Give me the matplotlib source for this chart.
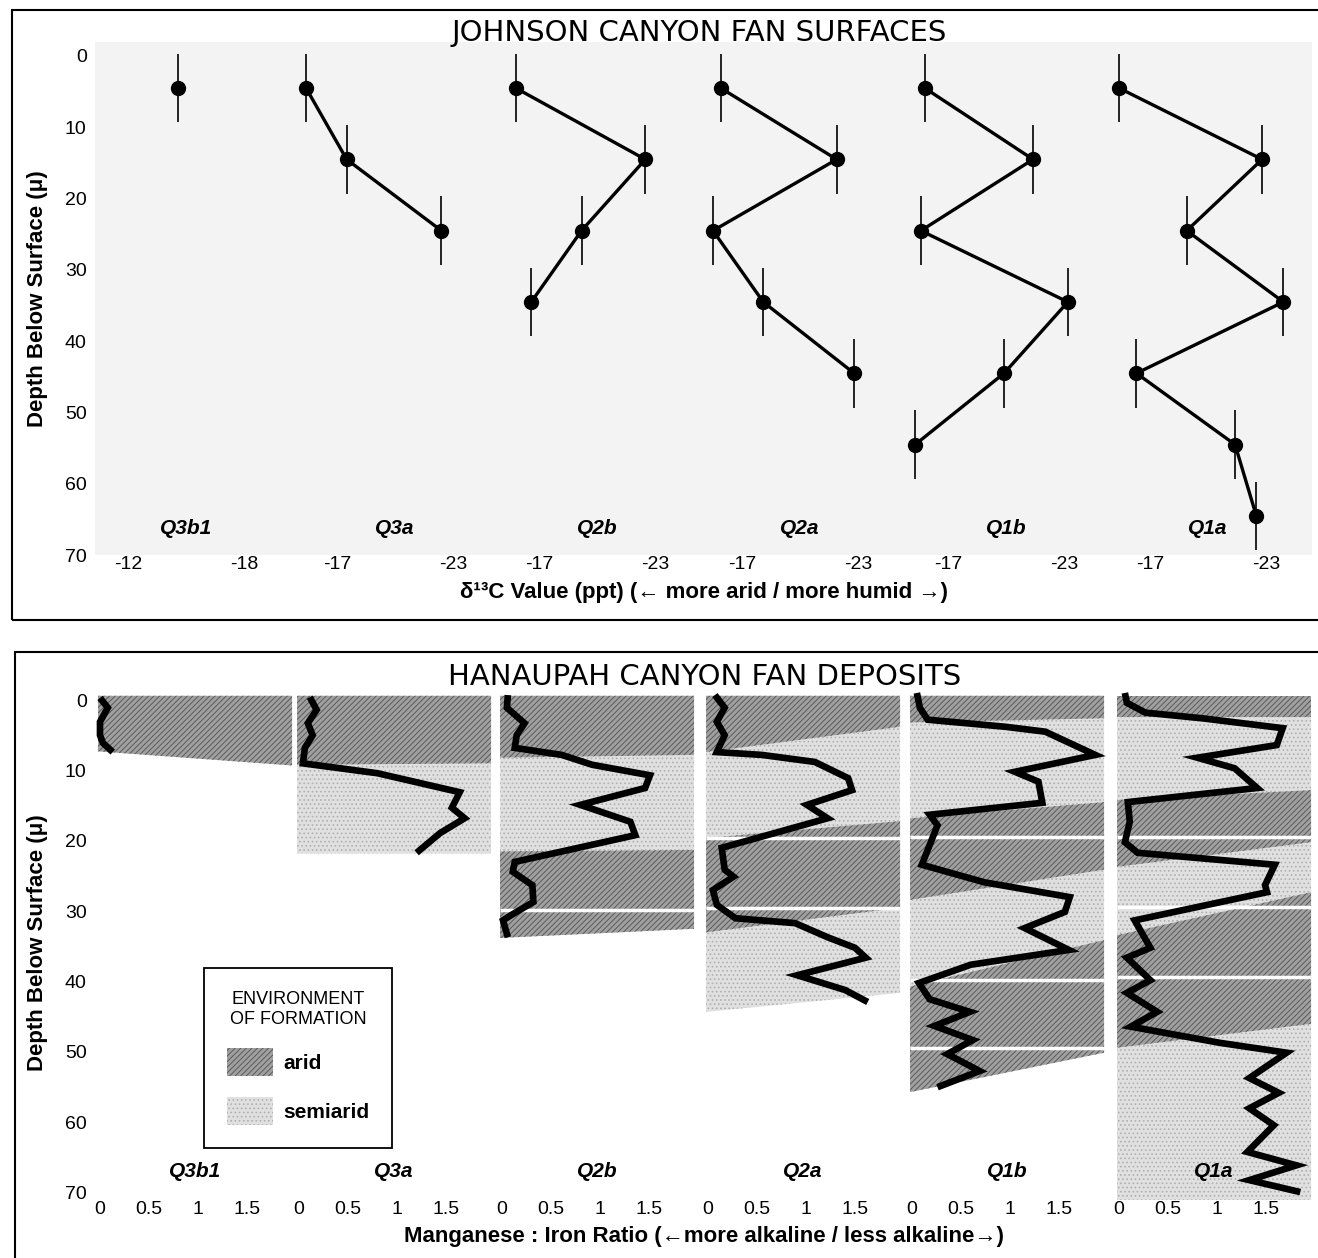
import matplotlib
matplotlib.use("Agg")
import matplotlib.pyplot as plt
from matplotlib.patches import Rectangle, Patch

plt.rcParams["font.family"] = ["Liberation Sans", "DejaVu Sans"]
plt.rcParams["hatch.linewidth"] = 0.7
plt.rcParams["axes.unicode_minus"] = False

# ---------------- data: Johnson Canyon (delta 13C) ----------------
surfaces = ["Q3b1", "Q3a", "Q2b", "Q2a", "Q1b", "Q1a"]
sample_depths = [4.5, 14.5, 24.5, 34.5, 44.5, 54.5, 64.5]
d13c_q3b1 = [-14.6]
d13c_q3a = [-15.4, -17.5, -22.4]
d13c_q2b = [-15.8, -22.5, -19.2, -16.6]
d13c_q2a = [-15.9, -21.9, -15.5, -18.1, -22.8]
d13c_q1b = [-15.8, -21.4, -15.6, -23.2, -19.9, -15.3]
d13c_q1a = [-15.4, -22.8, -18.9, -23.9, -16.3, -21.4, -22.5]
d13c_err = 4.8
d13c_ticks = [[-12, -18], [-17, -23], [-17, -23], [-17, -23], [-17, -23], [-17, -23]]
depth_ticks = [0, 10, 20, 30, 40, 50, 60, 70]

# ---------------- data: Hanaupah Canyon (Mn:Fe ratio) ----------------
mnfe_depth_q3b1 = [-0.3, 1.1, 3.1, 5.0, 6.1, 7.4]
mnfe_q3b1 = [0.0, 0.08, 0.0, 0.0, 0.03, 0.13]
mnfe_depth_q3a = [-0.4, 1.4, 3.3, 5.0, 6.8, 9.0, 10.4, 13.1, 15.3, 16.8, 18.9, 21.7]
mnfe_q3a = [0.11, 0.18, 0.09, 0.14, 0.06, 0.04, 0.8, 1.64, 1.56, 1.69, 1.44, 1.2]
mnfe_depth_q2b = [-0.7, 1.1, 3.3, 5.0, 6.8, 7.8, 9.2, 10.7, 12.5, 14.9, 17.3, 19.2,
                  23.0, 24.4, 26.3, 28.7, 30.5, 31.3, 33.7]
mnfe_q2b = [0.06, 0.05, 0.23, 0.15, 0.13, 0.61, 0.92, 1.51, 1.46, 0.8, 1.31, 1.36,
            0.13, 0.11, 0.31, 0.32, 0.1, 0.01, 0.06]
mnfe_depth_q2a = [-0.7, 1.1, 3.1, 5.0, 7.4, 7.8, 8.8, 11.1, 12.8, 14.9, 16.8, 21.0,
                  24.1, 25.1, 27.0, 29.1, 31.0, 31.7, 33.7, 35.2, 36.6, 39.1, 41.2, 42.9]
mnfe_q2a = [0.07, 0.17, 0.09, 0.17, 0.09, 0.55, 1.09, 1.43, 1.47, 1.01, 1.22, 0.14,
            0.17, 0.26, 0.05, 0.09, 0.28, 0.89, 1.22, 1.5, 1.61, 0.91, 1.4, 1.63]
mnfe_depth_q1b = [-1.0, 1.1, 2.8, 3.8, 4.5, 7.8, 10.2, 11.6, 14.6, 16.3, 17.8, 23.4,
                  25.9, 28.0, 30.1, 32.4, 35.5, 37.6, 40.2, 42.5, 44.3, 46.3, 48.3,
                  50.3, 52.7, 55.0]
mnfe_q1b = [0.05, 0.08, 0.16, 0.95, 1.36, 1.87, 1.05, 1.29, 1.33, 0.18, 0.26, 0.1,
            0.74, 1.61, 1.56, 1.15, 1.6, 0.6, 0.07, 0.18, 0.59, 0.23, 0.62, 0.36,
            0.69, 0.26]
mnfe_depth_q1a = [-1.0, 0.4, 1.8, 2.6, 4.0, 6.4, 8.2, 9.7, 12.5, 14.5, 17.3, 20.2,
                  21.7, 23.4, 26.3, 27.3, 31.3, 35.2, 36.6, 39.8, 41.6, 44.3, 46.4,
                  48.7, 50.1, 53.7, 55.8, 58.0, 60.4, 64.2, 66.1, 68.2, 69.9]
mnfe_q1a = [0.06, 0.08, 0.27, 0.85, 1.67, 1.61, 0.8, 1.18, 1.41, 0.09, 0.11, 0.06,
            0.19, 1.59, 1.49, 1.51, 0.16, 0.32, 0.08, 0.32, 0.08, 0.39, 0.12, 1.03,
            1.71, 1.33, 1.63, 1.33, 1.58, 1.31, 1.81, 1.33, 1.85]
ratio_ticks = [0, 0.5, 1, 1.5]
ratio_tick_labels = ["0", "0.5", "1", "1.5"]

# environment bands: (type, top left, top right, bottom left, bottom right) depths
bands_q3b1 = [("arid", -0.6, -0.6, 7.3, 9.3)]
bands_q3a = [("arid", -0.6, -0.6, 9.2, 9.0), ("semiarid", 9.2, 9.0, 21.8, 21.8)]
bands_q2b = [("arid", -0.6, -0.6, 8.2, 7.8), ("semiarid", 8.2, 7.8, 21.5, 21.3),
             ("arid", 21.5, 21.3, 33.8, 32.5)]
bands_q2a = [("arid", -0.6, -0.6, 7.4, 3.8), ("semiarid", 7.4, 3.8, 19.6, 17.2),
             ("arid", 19.6, 17.2, 29.5, 29.5), ("semiarid", 29.5, 29.5, 44.3, 41.6),
             ("arid", 29.5, 29.5, 33.0, 29.5)]
bands_q1b = [("arid", -0.6, -0.6, 3.2, 2.6), ("semiarid", 3.2, 2.6, 16.8, 14.5),
             ("arid", 16.8, 14.5, 28.4, 24.1), ("semiarid", 28.4, 24.1, 40.7, 34.1),
             ("arid", 40.7, 34.1, 55.7, 50.1)]
bands_q1a = [("arid", -0.6, -0.6, 2.4, 2.4), ("semiarid", 2.4, 2.4, 14.2, 12.8),
             ("arid", 14.2, 12.8, 23.7, 20.2), ("semiarid", 23.7, 20.2, 33.4, 27.3),
             ("arid", 33.4, 27.3, 49.4, 46.0), ("semiarid", 49.4, 46.0, 71, 71)]
gaps_q2b = [29.8]
gaps_q2a = [19.6, 29.5]
gaps_q1b = [19.5, 39.8, 49.5]
gaps_q1a = [19.5, 29.4, 39.3]

d13c_values = [d13c_q3b1, d13c_q3a, d13c_q2b, d13c_q2a, d13c_q1b, d13c_q1a]
mnfe_values = [mnfe_q3b1, mnfe_q3a, mnfe_q2b, mnfe_q2a, mnfe_q1b, mnfe_q1a]
mnfe_depths = [mnfe_depth_q3b1, mnfe_depth_q3a, mnfe_depth_q2b, mnfe_depth_q2a,
               mnfe_depth_q1b, mnfe_depth_q1a]
bands = [bands_q3b1, bands_q3a, bands_q2b, bands_q2a, bands_q1b, bands_q1a]
gaps = [[], [], gaps_q2b, gaps_q2a, gaps_q1b, gaps_q1a]

# ---------------- styles / layout ----------------
W, H = 1318, 1258
styles = {
    "arid": dict(facecolor="#a0a0a0", edgecolor="#5a5a5a", hatch="//////", lw=0),
    "semiarid": dict(facecolor="#e0e0e0", edgecolor="#b0b0b0", hatch="....", lw=0),
}

fig = plt.figure(figsize=(W / 100, H / 100), dpi=100)


def px_axes(x0, y0, w, h):
    ax = fig.add_axes([x0 / W, 1 - (y0 + h) / H, w / W, h / H])
    for s in ax.spines.values():
        s.set_visible(False)
    return ax


# ======== top panel ========
top0, top_scale = 56, 7.13
t_y0 = top0 - 2 * top_scale
t_h = 72 * top_scale

main_t = px_axes(95, t_y0, 1217, t_h)
main_t.set_facecolor("#f3f3f3")
main_t.set_ylim(70, -2)
main_t.set_xticks([])
main_t.set_yticks(depth_ticks)
main_t.tick_params(axis="y", length=0, pad=6, labelsize=14)
main_t.set_ylabel("Depth Below Surface (\u03bc)", fontsize=16, fontweight="bold")
main_t.yaxis.set_label_coords(-47 / 1217, 0.5)
main_t.set_xlabel("\u03b4\u00b9\u00b3C Value (ppt) (\u2190 more arid / more humid \u2192)",
                  fontsize=16, fontweight="bold")
main_t.xaxis.set_label_coords(0.5, -(582 - 555) / t_h)

first_tick_px = [128, 337, 539, 742, 948, 1150]
px_per_ppt = 19.33
for i, name in enumerate(surfaces):
    ax = px_axes(first_tick_px[i] - 45, t_y0, 200, t_h)
    ax.patch.set_alpha(0)
    t0 = d13c_ticks[i][0]
    ax.set_xlim(t0 + 45 / px_per_ppt, t0 - 155 / px_per_ppt)
    ax.set_ylim(70, -2)
    vals = d13c_values[i]
    ax.errorbar(vals, sample_depths[:len(vals)], yerr=d13c_err, fmt="-o",
                color="black", lw=2.4, ms=10, elinewidth=1.2, capsize=0)
    ax.set_yticks([])
    ax.set_xticks(d13c_ticks[i])
    ax.tick_params(axis="x", length=0, pad=1, labelsize=14)
    ax.text(sum(d13c_ticks[i]) / 2, 66.2, name, ha="center", va="center",
            fontsize=15, fontweight="bold", fontstyle="italic")

fig.text(699 / W, 1 - 33 / H, "JOHNSON CANYON FAN SURFACES", ha="center",
         va="center", fontsize=21, family="DejaVu Sans")

# ======== bottom panel ========
bot0, bot_scale = 700, 7.04
b_y0 = bot0 - 2 * bot_scale
b_h = 73 * bot_scale

main_b = px_axes(95, b_y0, 1217, b_h)
main_b.set_facecolor("white")
main_b.set_ylim(71, -2)
main_b.set_xticks([])
main_b.set_yticks(depth_ticks)
main_b.tick_params(axis="y", length=0, pad=6, labelsize=14)
main_b.set_ylabel("Depth Below Surface (\u03bc)", fontsize=16, fontweight="bold")
main_b.yaxis.set_label_coords(-47 / 1217, 0.5)
main_b.set_xlabel("Manganese : Iron Ratio (\u2190more alkaline / less alkaline\u2192)",
                  fontsize=16, fontweight="bold")
main_b.xaxis.set_label_coords(0.5, -(1226 - 1200) / b_h)

zero_px = [100, 299, 502, 708, 912, 1119]
px_per_ratio = 98
band_x = (-0.02, 1.96)
for i, name in enumerate(surfaces):
    ax = px_axes(zero_px[i] - 0.05 * px_per_ratio, b_y0, 2.05 * px_per_ratio, b_h)
    ax.patch.set_alpha(0)
    ax.set_xlim(-0.05, 2.0)
    ax.set_ylim(71, -2)
    ordered = [b for b in bands[i] if b[0] == "semiarid"] + \
              [b for b in bands[i] if b[0] == "arid"]
    for kind, tl, tr, bl, br in ordered:
        ax.fill([band_x[0], band_x[1], band_x[1], band_x[0]], [tl, tr, br, bl],
                zorder=1, **styles[kind])
    if gaps[i]:
        ax.hlines(gaps[i], band_x[0], band_x[1], color="white", lw=2.5, zorder=2)
    ax.plot(mnfe_values[i], mnfe_depths[i], color="black", lw=4.8, zorder=3,
            solid_joinstyle="miter", solid_capstyle="butt")
    ax.set_yticks([])
    ax.set_xticks(ratio_ticks)
    ax.set_xticklabels(ratio_tick_labels)
    ax.tick_params(axis="x", length=0, pad=1, labelsize=14)
    ax.text(0.97, 67, name, ha="center", va="center", fontsize=15,
            fontweight="bold", fontstyle="italic", zorder=4)

fig.text(705 / W, 1 - 677 / H, "HANAUPAH CANYON FAN DEPOSITS", ha="center",
         va="center", fontsize=21, family="DejaVu Sans")

handles = [Patch(label="arid", **styles["arid"]),
           Patch(label="semiarid", **styles["semiarid"])]
leg = main_b.legend(handles=handles, title="ENVIRONMENT\nOF FORMATION",
                    loc="upper left", bbox_to_anchor=(204 / W, 1 - 968 / H),
                    bbox_transform=fig.transFigure, borderaxespad=0,
                    frameon=True, fancybox=False,
                    framealpha=1, edgecolor="black", fontsize=15, title_fontsize=13,
                    handlelength=2.2, handleheight=1.7, labelspacing=1.0,
                    borderpad=1.1, handletextpad=0.5)
leg.get_frame().set_linewidth(1.3)
for t in leg.get_texts():
    t.set_fontweight("bold")
leg.get_title().set_multialignment("center")

# panel frames
fig.add_artist(Rectangle((12 / W, 1 - 620 / H), 1330 / W, 610 / H,
                         transform=fig.transFigure, fill=False, lw=1.5, ec="black"))
fig.add_artist(Rectangle((15 / W, 1 - 1290 / H), 1330 / W, 638 / H,
                         transform=fig.transFigure, fill=False, lw=1.5, ec="black"))

fig.savefig("out.png", dpi=100)
